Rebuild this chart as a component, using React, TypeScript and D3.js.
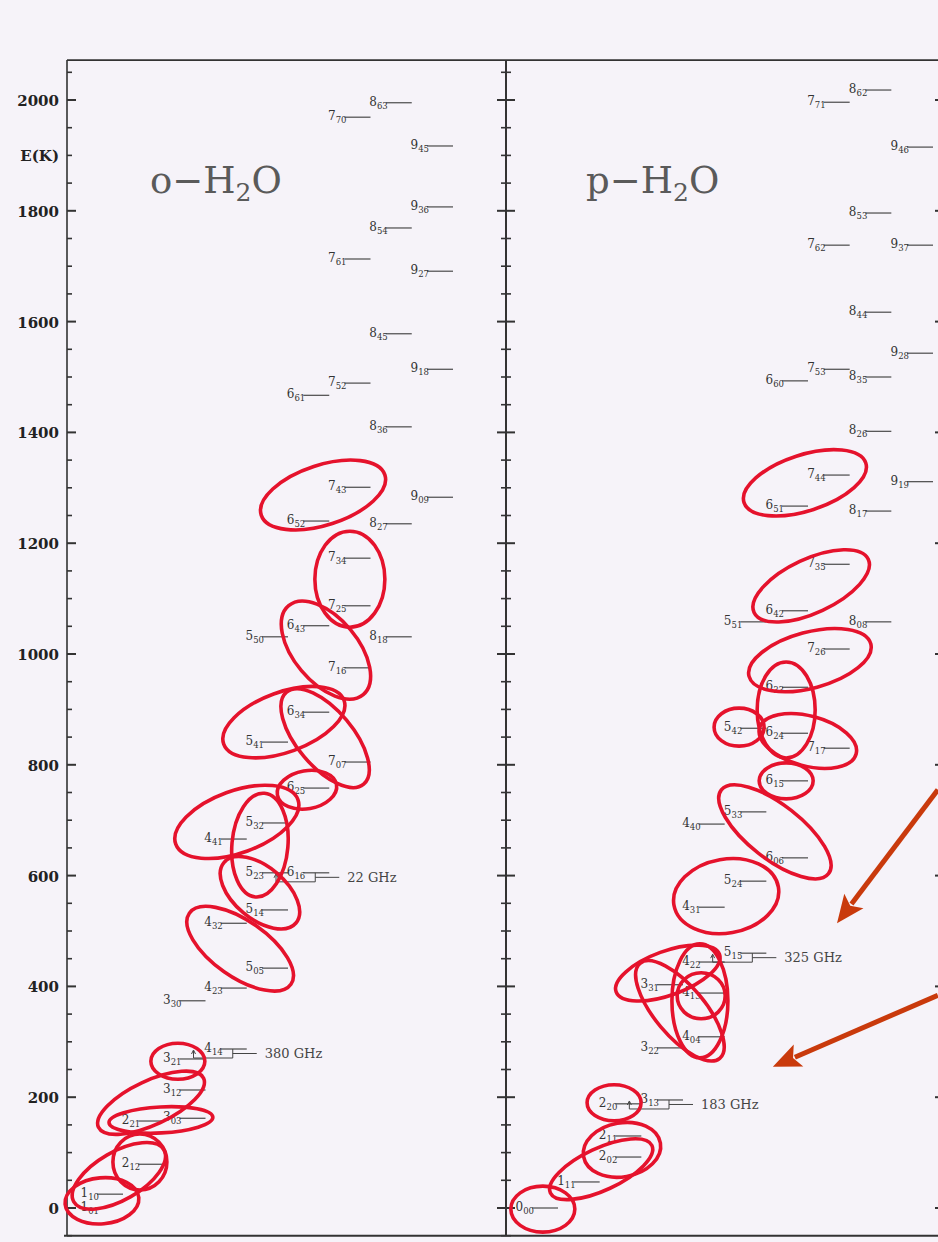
import React from "react";
import * as d3 from "d3";

const W = 938;
const H = 1242;

// Energy axis
const majorTicks = [0, 200, 400, 600, 800, 1000, 1200, 1400, 1600, 1800, 2000];
const minorTicks = d3.range(-50, 2051, 50);
const tickLabels = ["0", "200", "400", "600", "800", "1000", "1200", "1400", "1600", "1800", "2000"];
const axisTitle = "E(K)";
const axisTitleValue = 1900;

// Levels: "J KaKc", energy (K)
const orthoLevels: [string, number][] = [
  ["1 01", 0], ["1 10", 25], ["2 12", 79], ["2 21", 157], ["3 03", 162], ["3 12", 213],
  ["3 21", 269], ["4 14", 287], ["3 30", 374], ["4 23", 397], ["5 05", 433], ["4 32", 514],
  ["5 14", 538], ["5 23", 605], ["6 16", 605], ["4 41", 666], ["5 32", 695], ["6 25", 758],
  ["7 07", 805], ["5 41", 841], ["6 34", 895], ["7 16", 975], ["5 50", 1031], ["8 18", 1031],
  ["6 43", 1051], ["7 25", 1087], ["7 34", 1173], ["8 27", 1235], ["6 52", 1240], ["9 09", 1283],
  ["7 43", 1301], ["8 36", 1410], ["6 61", 1467], ["7 52", 1489], ["9 18", 1514], ["8 45", 1578],
  ["9 27", 1691], ["7 61", 1713], ["8 54", 1769], ["9 36", 1807], ["9 45", 1917], ["7 70", 1969],
  ["8 63", 1995],
];

const paraLevels: [string, number][] = [
  ["0 00", 0], ["1 11", 47], ["2 02", 92], ["2 11", 130], ["2 20", 188], ["3 13", 195],
  ["3 22", 289], ["4 04", 309], ["4 13", 388], ["3 31", 403], ["4 22", 444], ["5 15", 460],
  ["4 31", 543], ["5 24", 590], ["6 06", 632], ["4 40", 693], ["5 33", 715], ["6 15", 771],
  ["7 17", 830], ["6 24", 857], ["5 42", 866], ["6 33", 940], ["7 26", 1009], ["5 51", 1058],
  ["8 08", 1058], ["6 42", 1078], ["7 35", 1162], ["8 17", 1258], ["6 51", 1267], ["9 19", 1311],
  ["7 44", 1323], ["8 26", 1402], ["6 60", 1493], ["8 35", 1500], ["7 53", 1514], ["9 28", 1543],
  ["8 44", 1617], ["7 62", 1738], ["9 37", 1738], ["8 53", 1796], ["9 46", 1915], ["7 71", 1996],
  ["8 62", 2018],
];

const levelsWithoutLine = ["1 01"];

// Maser transitions
const orthoTransitions = [
  { upper: "6 16", lower: "5 23", label: "22 GHz" },
  { upper: "4 14", lower: "3 21", label: "380 GHz" },
];
const paraTransitions = [
  { upper: "5 15", lower: "4 22", label: "325 GHz" },
  { upper: "3 13", lower: "2 20", label: "183 GHz" },
];

// Hand-drawn highlight ellipses: [column J, energy, semi-axis x (px), semi-axis y (px), rotation deg]
const orthoEllipses: number[][] = [
  [6.48, 1287, 65, 30, -18],
  [7.13, 1135, 35, 48, 0],
  [6.55, 1007, 58, 32, 50],
  [5.53, 877, 64, 30, -20],
  [6.53, 848, 60, 28, 50],
  [6.09, 755, 30, 19, -10],
  [4.39, 697, 65, 31, -20],
  [4.95, 655, 28, 52, 5],
  [4.95, 569, 47, 26, 40],
  [4.47, 468, 62, 28, 35],
  [2.96, 265, 27, 18, 0],
  [2.31, 190, 58, 22, -25],
  [2.55, 159, 52, 13, -3],
  [2.04, 83, 27, 28, 0],
  [1.53, 58, 52, 24, -30],
  [1.12, 13, 37, 23, -5],
];
const paraEllipses: number[][] = [
  [6.55, 1309, 64, 28, -18],
  [6.7, 1123, 63, 27, -25],
  [6.67, 989, 63, 28, -15],
  [6.1, 899, 29, 48, 0],
  [4.97, 868, 25, 19, 0],
  [6.62, 843, 50, 25, 15],
  [6.1, 771, 27, 18, 0],
  [5.83, 679, 68, 27, 38],
  [4.66, 563, 53, 37, -10],
  [3.26, 424, 55, 22, -20],
  [3.55, 356, 62, 25, 50],
  [4.03, 374, 28, 57, 0],
  [4.06, 383, 24, 23, 0],
  [1.97, 190, 27, 18, 0],
  [2.16, 105, 39, 27, -10],
  [1.66, 70, 56, 21, -25],
  [0.26, -2, 32, 23, 0],
];

// Arrows in para-panel coordinates: [J start, E start, J tip, E tip]
const arrows: number[][] = [
  [9.74, 755, 7.32, 514],
  [9.74, 384, 5.78, 255],
];

const yScale = d3.scaleLinear().domain([0, 2000]).range([1208, 100]);
const xO = d3.scaleLinear().domain([1, 9]).range([97, 427]);
const xP = d3.scaleLinear().domain([0, 9]).range([532, 907]);

const LINE_LEN = 26;
const RED = "#e5122c";
const LEVEL_COLOR = "#3a3a3a";
const LABEL_FONT = "DejaVu Serif";

function Level({ id, e, xs }: { id: string; e: number; xs: d3.ScaleLinear<number, number> }) {
  const [J, K] = id.split(" ");
  const x = xs(+J);
  const y = yScale(e);
  return (
    <g>
      {!levelsWithoutLine.includes(id) && (
        <line x1={x} x2={x + LINE_LEN} y1={y} y2={y} stroke={LEVEL_COLOR} strokeWidth={1.1} />
      )}
      <text x={x + 2} y={y + 3} textAnchor="end" fontFamily={LABEL_FONT} fontSize={12} fill="#333">
        {J}
        <tspan fontSize={8.5} dy={3}>{K}</tspan>
      </text>
    </g>
  );
}

function Transition({ t, levels, xs }: any) {
  const up = levels.find((l: any) => l[0] === t.upper);
  const lo = levels.find((l: any) => l[0] === t.lower);
  const xu = xs(+up[0].split(" ")[0]);
  const xl = xs(+lo[0].split(" ")[0]) + LINE_LEN;
  const y = yScale(up[1]);
  const vx = xu + 12;
  const left = xl - 12;
  const yb = y + 9;
  const ym = y + 4.5;
  return (
    <g fill="none" stroke="#444" strokeWidth={1}>
      <path d={`M${vx},${y} V${yb} H${left} V${y + 2}`} />
      <path d={`M${left - 2},${y + 5} L${left},${y + 1} L${left + 2},${y + 5}`} />
      <line x1={vx} x2={vx + 24} y1={ym} y2={ym} />
      <text x={vx + 32} y={ym + 4.5} stroke="none" fill="#444" fontFamily={LABEL_FONT} fontSize={13}>
        {t.label}
      </text>
    </g>
  );
}

function Ellipse({ d, xs }: { d: number[]; xs: d3.ScaleLinear<number, number> }) {
  const [j, e, a, b, r] = d;
  const cx = xs(j);
  const cy = yScale(e);
  return (
    <ellipse
      cx={cx}
      cy={cy}
      rx={a}
      ry={b}
      transform={`rotate(${r},${cx},${cy})`}
      fill="none"
      stroke={RED}
      strokeWidth={3.6}
    />
  );
}

function Arrow({ d }: { d: number[] }) {
  const [j0, e0, j1, e1] = d;
  const x0 = xP(j0), y0 = yScale(e0), x1 = xP(j1), y1 = yScale(e1);
  const dx = x1 - x0, dy = y1 - y0;
  const len = Math.hypot(dx, dy);
  const ux = dx / len, uy = dy / len;
  const px = -uy, py = ux;
  const hl = 28, hw = 12;
  const bx = x1 - ux * hl, by = y1 - uy * hl;
  const color = "#c93a0c";
  return (
    <g>
      <line x1={x0} y1={y0} x2={bx + ux * 4} y2={by + uy * 4} stroke={color} strokeWidth={5} />
      <polygon
        points={`${x1},${y1} ${bx + px * hw},${by + py * hw} ${bx + ux * 6},${by + uy * 6} ${bx - px * hw},${by - py * hw}`}
        fill={color}
      />
    </g>
  );
}

function AxisTicks({ x, both, majorLen, minorLen }: { x: number; both: boolean; majorLen: number; minorLen: number }) {
  return (
    <g stroke="#333">
      {minorTicks.map((v) => {
        const major = majorTicks.includes(v);
        const l = major ? majorLen : minorLen;
        const y = yScale(v);
        return (
          <line
            key={v}
            x1={both ? x - l : x}
            x2={x + l}
            y1={y}
            y2={y}
            strokeWidth={major ? 2 : 1.6}
          />
        );
      })}
    </g>
  );
}

function Title({ x, prefix }: { x: number; prefix: string }) {
  const y = 193;
  return (
    <text x={x} y={y} fontFamily="DejaVu Serif" fontSize={37} fill="#5a5a5a">
      {prefix}−H<tspan fontSize={25} dy={8}>2</tspan>
      <tspan dy={-8}>O</tspan>
    </text>
  );
}

export default function App() {
  const top = yScale(2072);
  const bottom = yScale(-50);
  const leftX = 67;
  const midX = 506;
  const rightX = 947;
  return (
    <svg
      width={W}
      height={H}
      style={{ position: "absolute", left: 0, top: 0, display: "block" }}
      xmlns="http://www.w3.org/2000/svg"
    >
      <rect x={0} y={0} width={W} height={H} fill="#f6f3f9" />

      {/* frame */}
      <line x1={leftX} x2={W} y1={top} y2={top} stroke="#333" strokeWidth={1.6} />
      <line x1={leftX - 3} x2={W} y1={bottom} y2={bottom} stroke="#333" strokeWidth={2} />
      <line x1={leftX} x2={leftX} y1={top} y2={bottom} stroke="#333" strokeWidth={1.6} />
      <line x1={midX} x2={midX} y1={top} y2={bottom} stroke="#333" strokeWidth={2} />
      <line x1={rightX} x2={rightX} y1={top} y2={bottom} stroke="#333" strokeWidth={2} />

      <AxisTicks x={leftX} both={false} majorLen={9} minorLen={5} />
      <AxisTicks x={midX} both={true} majorLen={9} minorLen={5} />
      <AxisTicks x={rightX} both={true} majorLen={12} minorLen={5} />

      {/* tick labels */}
      <g fontFamily="DejaVu Serif" fontWeight="bold" fontSize={15} fill="#222" textAnchor="end">
        {majorTicks.map((v, i) => (
          <text key={v} x={59} y={yScale(v) + 6}>
            {tickLabels[i]}
          </text>
        ))}
        <text x={59} y={yScale(axisTitleValue) + 6}>{axisTitle}</text>
      </g>

      {/* titles */}
      <Title x={150} prefix="o" />
      <Title x={586} prefix="p" />

      {/* levels */}
      {orthoLevels.map(([id, e]) => (
        <Level key={"o" + id} id={id} e={e} xs={xO} />
      ))}
      {paraLevels.map(([id, e]) => (
        <Level key={"p" + id} id={id} e={e} xs={xP} />
      ))}

      {orthoTransitions.map((t) => (
        <Transition key={t.label} t={t} levels={orthoLevels} xs={xO} />
      ))}
      {paraTransitions.map((t) => (
        <Transition key={t.label} t={t} levels={paraLevels} xs={xP} />
      ))}

      {/* highlight ellipses */}
      {orthoEllipses.map((d, i) => (
        <Ellipse key={"oe" + i} d={d} xs={xO} />
      ))}
      {paraEllipses.map((d, i) => (
        <Ellipse key={"pe" + i} d={d} xs={xP} />
      ))}

      {arrows.map((d, i) => (
        <Arrow key={"a" + i} d={d} />
      ))}
    </svg>
  );
}
